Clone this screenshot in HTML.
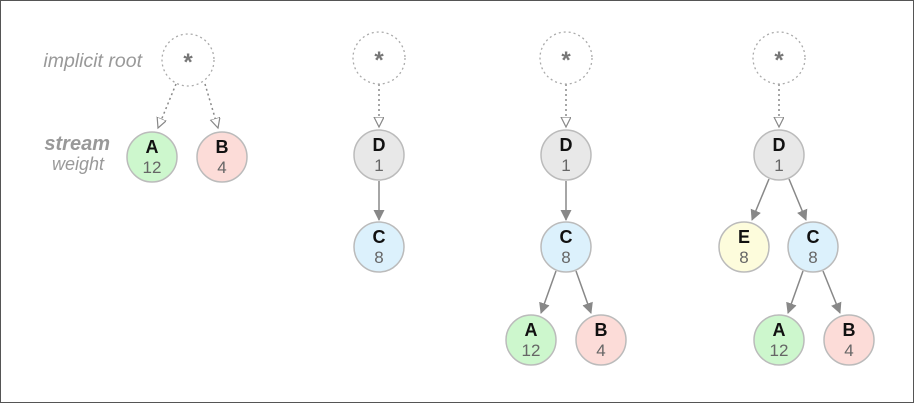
<!DOCTYPE html>
<html><head><style>body{margin:0;background:#fff}svg{display:block}</style></head><body>
<svg width="918" height="404" viewBox="0 0 918 404" xmlns="http://www.w3.org/2000/svg" font-family="Liberation Sans, sans-serif">
<defs>
<marker id="op" markerWidth="12" markerHeight="12" refX="10" refY="5" orient="auto" markerUnits="userSpaceOnUse"><path d="M0,0 L10,5 L0,10 Z" fill="#fff" stroke="#888" stroke-width="1.2"/></marker>
<marker id="sol" markerWidth="12" markerHeight="12" refX="10" refY="5.5" orient="auto" markerUnits="userSpaceOnUse"><path d="M0,0 L11,5.5 L0,11 Z" fill="#888"/></marker>
</defs>
<rect x="0.5" y="0.5" width="913" height="402" fill="#fff" stroke="#555" stroke-width="1"/>
<text x="142" y="67" font-size="19.5" font-style="italic" fill="#999" text-anchor="end">implicit root</text>
<text x="110" y="150" font-size="20" font-style="italic" font-weight="bold" fill="#999" text-anchor="end">stream</text>
<text x="104" y="170" font-size="18" font-style="italic" fill="#999" text-anchor="end">weight</text>
<g stroke="#888" stroke-width="1.5" stroke-dasharray="2,3" fill="none">
<line x1="176" y1="84" x2="158" y2="128" marker-end="url(#op)"/>
<line x1="205" y1="84" x2="218" y2="128" marker-end="url(#op)"/>
<line x1="379" y1="84" x2="379" y2="127" marker-end="url(#op)"/>
<line x1="566" y1="84" x2="566" y2="127" marker-end="url(#op)"/>
<line x1="779" y1="84" x2="779" y2="127" marker-end="url(#op)"/>
</g>
<g stroke="#888" stroke-width="1.5" fill="none">
<line x1="379" y1="181" x2="379" y2="220" marker-end="url(#sol)"/>
<line x1="566" y1="181" x2="566" y2="220" marker-end="url(#sol)"/>
<line x1="556" y1="271" x2="541" y2="313" marker-end="url(#sol)"/>
<line x1="576" y1="271" x2="591" y2="313" marker-end="url(#sol)"/>
<line x1="769" y1="179" x2="752" y2="220" marker-end="url(#sol)"/>
<line x1="789" y1="179" x2="806" y2="220" marker-end="url(#sol)"/>
<line x1="803" y1="271" x2="788" y2="313" marker-end="url(#sol)"/>
<line x1="823" y1="271" x2="840" y2="313" marker-end="url(#sol)"/>
</g>
<g stroke="#aaa" stroke-width="1.3" stroke-dasharray="2,3" fill="#fff">
<circle cx="188" cy="60" r="26"/><circle cx="379" cy="58" r="26"/><circle cx="566" cy="58" r="26"/><circle cx="779" cy="58" r="26"/>
</g>
<g font-size="24" font-weight="bold" fill="#777" text-anchor="middle">
<text x="188" y="70">*</text><text x="379" y="68">*</text><text x="566" y="68">*</text><text x="779" y="68">*</text>
</g>
<g stroke="#bbb" stroke-width="1.5">
<circle cx="152" cy="157" r="25" fill="#cdf7cd"/><circle cx="222" cy="157" r="25" fill="#fcdcd8"/>
<circle cx="379" cy="155" r="25" fill="#e8e8e8"/><circle cx="379" cy="247" r="25" fill="#dcf1fc"/>
<circle cx="566" cy="155" r="25" fill="#e8e8e8"/><circle cx="566" cy="247" r="25" fill="#dcf1fc"/>
<circle cx="531" cy="340" r="25" fill="#cdf7cd"/><circle cx="601" cy="340" r="25" fill="#fcdcd8"/>
<circle cx="779" cy="155" r="25" fill="#e8e8e8"/><circle cx="744" cy="247" r="25" fill="#fdfcdc"/><circle cx="813" cy="247" r="25" fill="#dcf1fc"/>
<circle cx="779" cy="340" r="25" fill="#cdf7cd"/><circle cx="849" cy="340" r="25" fill="#fcdcd8"/>
</g>
<g font-size="18" font-weight="bold" fill="#111" text-anchor="middle">
<text x="152" y="153">A</text><text x="222" y="153">B</text>
<text x="379" y="151">D</text><text x="379" y="243">C</text>
<text x="566" y="151">D</text><text x="566" y="243">C</text><text x="531" y="336">A</text><text x="601" y="336">B</text>
<text x="779" y="151">D</text><text x="744" y="243">E</text><text x="813" y="243">C</text><text x="779" y="336">A</text><text x="849" y="336">B</text>
</g>
<g font-size="17" fill="#666" text-anchor="middle">
<text x="152" y="173">12</text><text x="222" y="173">4</text>
<text x="379" y="171">1</text><text x="379" y="263">8</text>
<text x="566" y="171">1</text><text x="566" y="263">8</text><text x="531" y="356">12</text><text x="601" y="356">4</text>
<text x="779" y="171">1</text><text x="744" y="263">8</text><text x="813" y="263">8</text><text x="779" y="356">12</text><text x="849" y="356">4</text>
</g>
</svg>
</body></html>
